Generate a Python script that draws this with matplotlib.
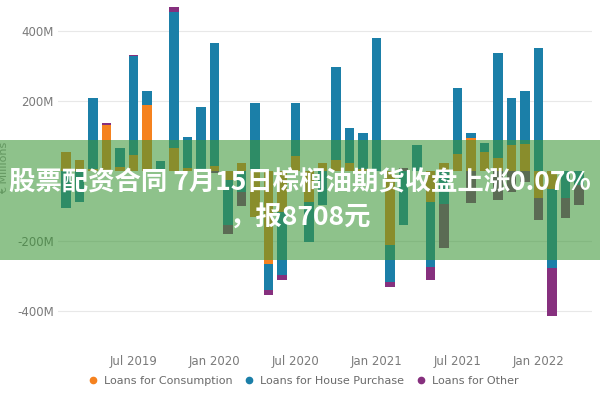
import matplotlib
matplotlib.use("Agg")
import matplotlib.pyplot as plt
import numpy as np
import pandas as pd
from matplotlib.patches import Rectangle
from matplotlib.lines import Line2D

# ---- data (millions) ----
months = pd.date_range("2019-02-01", "2022-04-01", freq="MS").strftime("%b %Y").tolist()
consumption = [54, 31, 5, 131, 12, 46, 189, 0, 66, 8, 4, 14, -25, 25, -130, -266, -117, 43, -89, 23,
               31, 23, 5, 0, -211, 0, 0, -89, 23, 50, 95, 54, 37, 74, 77, -77, -50, 0, 0]
house = [-105, -89, 206, 0, 54, 285, 42, 28, 389, 89, 179, 352, -130, -60, 194, -74, -180, 151, -114, -97,
         266, 100, 104, 380, -106, -154, 74, -186, -94, 187, 14, 26, 300, 137, 154, 354, -226, -77, -40]
other = [0, 0, 0, 8, 0, 3, 0, 0, 14, 0, 0, -5, -25, -40, 0, -14, -14, 0, 0, 0,
         0, 0, 0, 0, -14, 10, 0, -37, -126, 0, -91, 0, -83, -60, -30, -63, -137, -57, -57]
series_names = ["Loans for Consumption", "Loans for House Purchase", "Loans for Other"]
series_colors = ["#F5821F", "#1B7FA8", "#86307E"]
tick_labels = ["Jul 2019", "Jan 2020", "Jul 2020", "Jan 2021", "Jul 2021", "Jan 2022"]
ytick_vals = [-400, -200, 200, 400]
title_line1 = "股票配资合同 7月15日棕榈油期货收盘上涨0.07%"
title_line2 = "，报8708元"

fig = plt.figure(figsize=(6, 4), dpi=100)
W, H = 600, 400
ax = fig.add_axes([58 / W, 1 - 335.5 / H, (592 - 58) / W, 335.5 / H])

x = np.arange(len(months))
pos_bottom = np.zeros(len(months))
neg_bottom = np.zeros(len(months))
for vals, col in zip([consumption, house, other], series_colors):
    v = np.array(vals, dtype=float)
    p = np.where(v > 0, v, 0)
    n = np.where(v < 0, v, 0)
    ax.bar(x, p, bottom=pos_bottom, width=0.68, color=col, zorder=3, linewidth=0)
    ax.bar(x, n, bottom=neg_bottom, width=0.68, color=col, zorder=3, linewidth=0)
    pos_bottom += p
    neg_bottom += n

ax.set_xlim((58 - 66) / 13.5, (592 - 66) / 13.5)
ax.set_ylim(-470, 490)

tick_idx = [months.index(t) for t in tick_labels]
ax.set_xticks(tick_idx)
ax.set_xticklabels(tick_labels, fontsize=8.5, color="#7a7a7a")
ax.set_yticks(ytick_vals)
ax.set_yticklabels([f"{v}M" for v in ytick_vals], fontsize=8.5, color="#7a7a7a")
ax.tick_params(axis="both", length=0)
ax.tick_params(axis="x", pad=14)
ax.tick_params(axis="y", pad=3)
ax.grid(axis="y", color="#e8e8e8", linewidth=0.8, zorder=0)
for s in ax.spines.values():
    s.set_visible(False)
ax.set_ylabel("€ Millions", fontsize=8, color="#999999", labelpad=6)

handles = [Line2D([0], [0], marker="o", linestyle="", markersize=4.5, color=c) for c in series_colors]
fig.legend(handles, series_names, loc="center", bbox_to_anchor=(0.5, 1 - 381 / H), ncol=3,
           frameon=False, fontsize=8.0, handletextpad=0.0, columnspacing=0.5,
           labelcolor="#6a6a6a")

# overlay band with title
band = Rectangle((0, 1 - 260 / H), 1, 120 / H, transform=fig.transFigure,
                 facecolor=(60 / 255, 150 / 255, 55 / 255), alpha=0.58, zorder=5, linewidth=0)
fig.add_artist(band)
fig.text(0.5, 1 - 183 / H, title_line1, ha="center", va="center", color="white",
         fontsize=19, fontweight="bold", family=["Noto Sans CJK SC", "DejaVu Sans"], zorder=6)
fig.text(0.5, 1 - 217 / H, title_line2, ha="center", va="center", color="white",
         fontsize=19, fontweight="bold", family=["Noto Sans CJK SC", "DejaVu Sans"], zorder=6)

fig.savefig("out.png", dpi=100)
